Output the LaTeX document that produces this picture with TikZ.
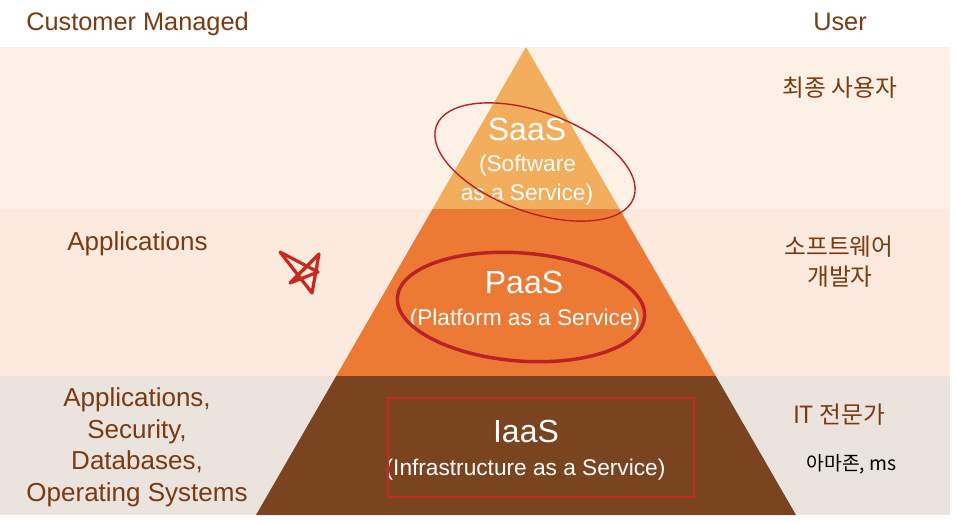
\documentclass[tikz,border=0pt]{standalone}
\usepackage{fontspec}
\setmainfont{Liberation Sans}
\newfontfamily\kr{Noto Sans CJK KR}
\definecolor{bandA}{HTML}{FDF1E6}
\definecolor{bandB}{HTML}{FCEADF}
\definecolor{bandC}{HTML}{EBE3DE}
\definecolor{saasc}{HTML}{F2AE5D}
\definecolor{paasc}{HTML}{EC7A35}
\definecolor{iaasc}{HTML}{7B4421}
\definecolor{txtbrown}{HTML}{7A3A12}
\definecolor{markred}{HTML}{BA2226}
\definecolor{rectred}{HTML}{C8281E}
\begin{document}
\begin{tikzpicture}[x=0.75pt,y=-0.75pt,
  hdr/.style={text=txtbrown,font=\fontsize{19}{22}\selectfont,anchor=base,inner sep=0pt},
  side/.style={text=txtbrown,font=\fontsize{19.5}{23.6}\selectfont,anchor=base,inner sep=0pt},
  krlabel/.style={text=txtbrown,font=\kr\fontsize{17.8}{24}\selectfont,inner sep=0pt},
  big/.style={text=white,font=\fontsize{24}{28}\selectfont,anchor=base,inner sep=0pt},
  small/.style={text=white,font=\fontsize{17}{21}\selectfont,anchor=base,inner sep=0pt},
  ring/.style={draw=markred},
  box/.style={draw=rectred,line width=1.9pt}]
\fill[white] (0,0) rectangle (956,522);
\useasboundingbox (0,0) rectangle (956,522);
% bands
\fill[bandA] (0,47) rectangle (950,209);
\fill[bandB] (0,209) rectangle (950,376);
\fill[bandC] (0,376) rectangle (950,515);
% pyramid
\coordinate (apex) at (526,47);
\coordinate (l1) at (432.5,209);
\coordinate (r1) at (619.5,209);
\coordinate (l2) at (336.2,376);
\coordinate (r2) at (715.8,376);
\coordinate (l3) at (256,515);
\coordinate (r3) at (796,515);
\fill[saasc] (apex) -- (r1) -- (l1) -- cycle;
\fill[paasc] (l1) -- (r1) -- (r2) -- (l2) -- cycle;
\fill[iaasc] (l2) -- (r2) -- (r3) -- (l3) -- cycle;
% headers
\node[hdr] (cm) at (137.5,30) {Customer Managed};
\node[hdr] (user) at (840,30) {User};
% left labels
\node[side] (app) at (137.5,250) {Applications};
\node[side] (s1) at (137,406.5) {Applications,};
\node[side] (s2) at (137,438) {Security,};
\node[side] (s3) at (137,469.5) {Databases,};
\node[side] (s4) at (137,501) {Operating Systems};
% right labels
\node[krlabel] (k1) at (840,87.5) {최종 사용자};
\node[krlabel] (k2) at (839,247) {소프트웨어};
\node[krlabel] (k3) at (840,277) {개발자};
\node[krlabel] (k4) at (839,415) {IT 전문가};
\node[krlabel,text=black,font=\kr\fontsize{14.5}{18}\selectfont] (k5) at (851.5,464) {아마존, ms};
% pyramid labels
\node[big] (saas) at (527,140) {SaaS};
\node[small] (saas2) at (527.5,171) {(Software};
\node[small] (saas3) at (527,200) {as a Service)};
\node[big] (paas) at (524,293.3) {PaaS};
\node[small] (paas2) at (525,325) {(Platform as a Service)};
\node[big] (iaas) at (526,442.7) {IaaS};
\node[small] (iaas2) at (525.5,475) {(Infrastructure as a Service)};
% stray tick
\draw[white,line width=1pt] (473,113) -- (476,120);
% annotations
\draw[ring,line width=1.05pt,rotate around={-20:(535,162)}] (535,162) ellipse [x radius=78.75pt, y radius=37.5pt];
\draw[ring,line width=2.6pt,rotate around={-4.5:(521,307)}] (521,307) ellipse [x radius=93pt, y radius=40.5pt];
\draw[box] (388,398) rectangle (694,497);
\draw[draw=rectred,line width=2.4pt,line join=round,line cap=round] (280,252) -- (312,293) -- (319,254) -- (290,283) -- (318,272) -- cycle;
\end{tikzpicture}
\end{document}
